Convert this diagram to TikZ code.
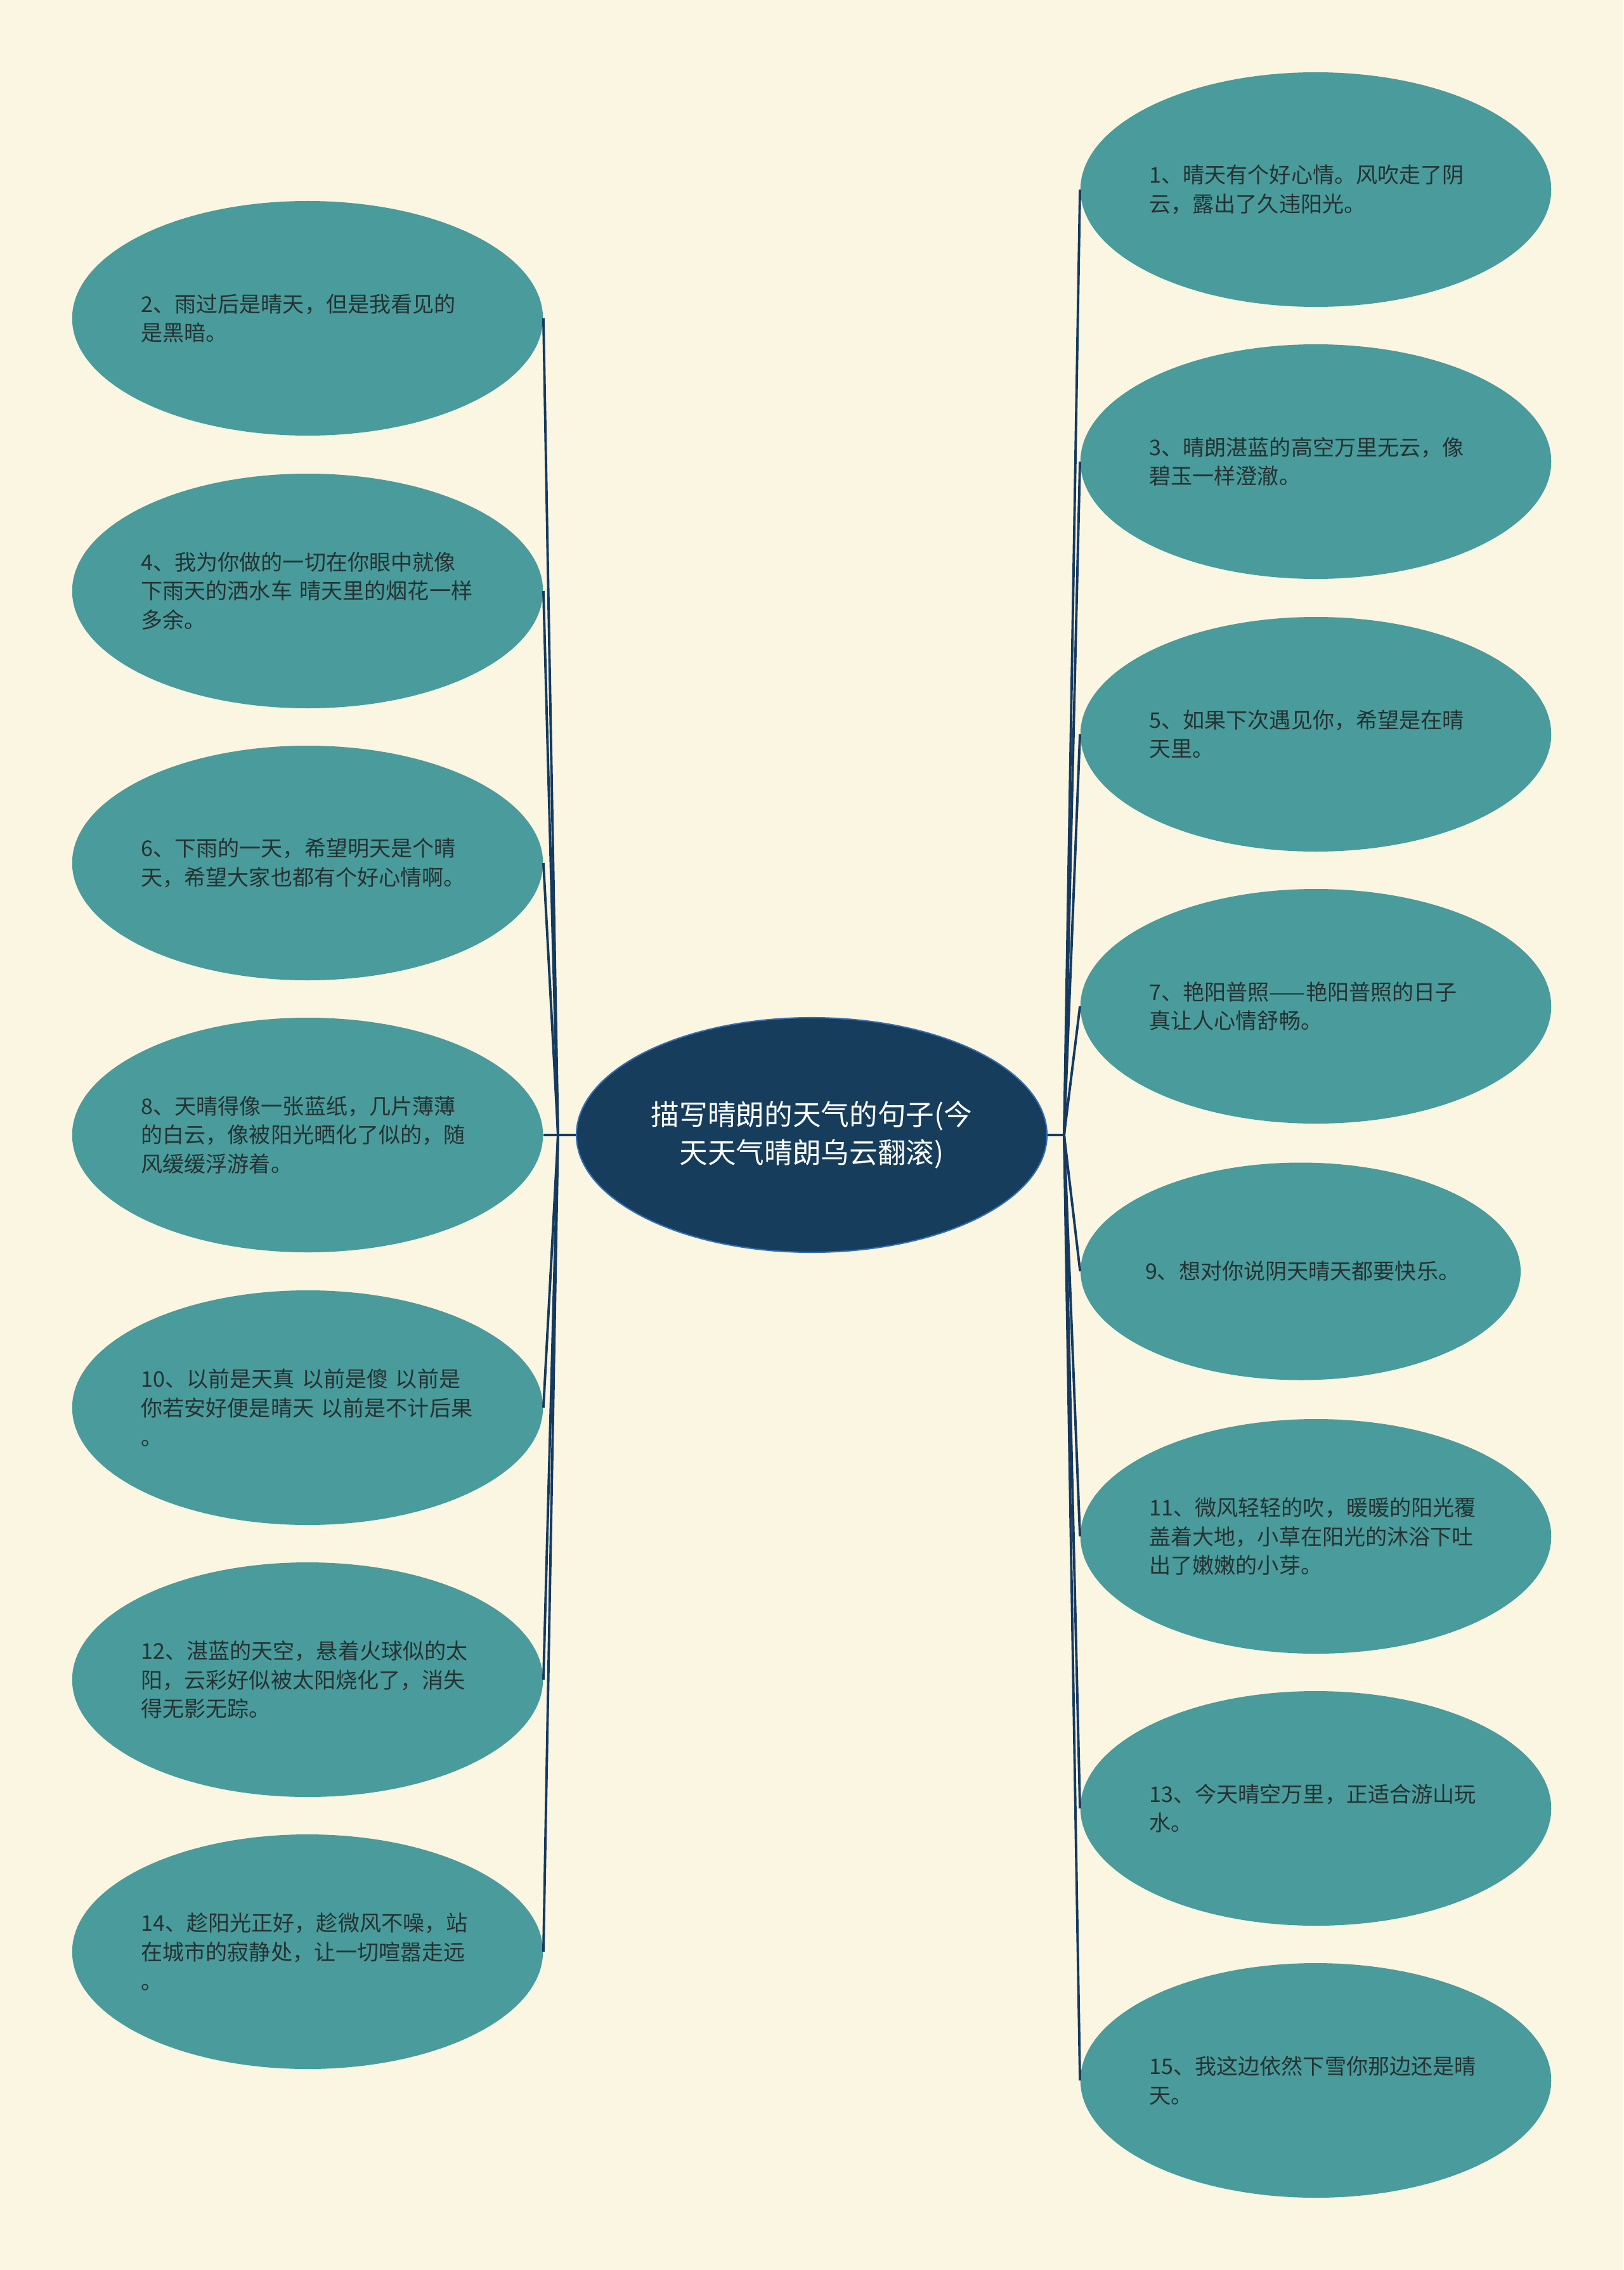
\documentclass[tikz,border=0pt]{standalone}
\usepackage{fontspec}
\newfontfamily\cjk{Noto Sans CJK SC}
\usetikzlibrary{shapes.geometric}
\definecolor{SkyBg}{RGB}{250,246,226}
\definecolor{SkyTeal}{RGB}{74,155,155}
\definecolor{SkyNavy}{RGB}{23,61,92}
\definecolor{SkyEdge}{RGB}{52,110,180}
\definecolor{SkyLine}{RGB}{22,58,95}
\definecolor{SkyInk}{RGB}{38,50,50}
\tikzset{
  bolha/.style={ellipse, fill=SkyTeal, text=SkyInk, inner sep=0pt,
                minimum width=7.42cm, minimum height=3.70cm, text width=5.25cm,
                align=left, font=\cjk\fontsize{9.7}{13}\selectfont},
  bolharaiz/.style={ellipse, fill=SkyNavy, draw=SkyEdge, line width=0.6pt, text=white,
                inner sep=0pt, minimum width=7.42cm, minimum height=3.70cm,
                align=center, font=\cjk\fontsize{12.7}{16.9}\selectfont},
  ligacao/.style={draw=SkyLine, line width=1.1pt},
}

\begin{document}
\begin{tikzpicture}
  \fill[SkyBg] (0,0) rectangle (25.6,-35.8);

  % ------------------------------------------------------------------ raiz
  \node[bolharaiz] (raiz) at (12.80,-17.90)
    {描写晴朗的天气的句子(今\\天天气晴朗乌云翻滚)};
  \coordinate (jesq) at (8.80,-17.90);
  \coordinate (jdir) at (16.78,-17.90);
  \draw[ligacao] (raiz.west) -- (jesq);
  \draw[ligacao] (raiz.east) -- (jdir);

  % ------------------------------------------------------------------ esquerda
  \foreach \n/\y/\txt in {
      2/5.02/{2、雨过后是晴天，但是我看见的\\是黑暗。},
      4/9.32/{4、我为你做的一切在你眼中就像\\下雨天的洒水车 晴天里的烟花一样\\多余。},
      6/13.61/{6、下雨的一天，希望明天是个晴\\天，希望大家也都有个好心情啊。},
      8/17.90/{8、天晴得像一张蓝纸，几片薄薄\\的白云，像被阳光晒化了似的，随\\风缓缓浮游着。},
      10/22.20/{10、以前是天真 以前是傻 以前是\\你若安好便是晴天 以前是不计后果\\。},
      12/26.49/{12、湛蓝的天空，悬着火球似的太\\阳，云彩好似被太阳烧化了，消失\\得无影无踪。},
      14/30.78/{14、趁阳光正好，趁微风不噪，站\\在城市的寂静处，让一切喧嚣走远\\。}}{
    \node[bolha] (n\n) at (4.85,-\y) {\txt};
    \draw[ligacao] (jesq) -- (n\n.east);
  }

  % ------------------------------------------------------------------ direita
  \foreach \n/\y/\txt in {
      1/2.99/{1、晴天有个好心情。风吹走了阴\\云，露出了久违阳光。},
      3/7.28/{3、晴朗湛蓝的高空万里无云，像\\碧玉一样澄澈。},
      5/11.58/{5、如果下次遇见你，希望是在晴\\天里。},
      7/15.87/{7、艳阳普照——艳阳普照的日子\\真让人心情舒畅。},
      11/24.23/{11、微风轻轻的吹，暖暖的阳光覆\\盖着大地，小草在阳光的沐浴下吐\\出了嫩嫩的小芽。},
      13/28.52/{13、今天晴空万里，正适合游山玩\\水。},
      15/32.81/{15、我这边依然下雪你那边还是晴\\天。}}{
    \node[bolha] (n\n) at (20.75,-\y) {\txt};
    \draw[ligacao] (jdir) -- (n\n.west);
  }
  \node[bolha, text width=4.9cm, minimum width=6.94cm, minimum height=3.43cm]
    (n9) at (20.51,-20.05) {9、想对你说阴天晴天都要快乐。};
  \draw[ligacao] (jdir) -- (n9.west);
\end{tikzpicture}
\end{document}
